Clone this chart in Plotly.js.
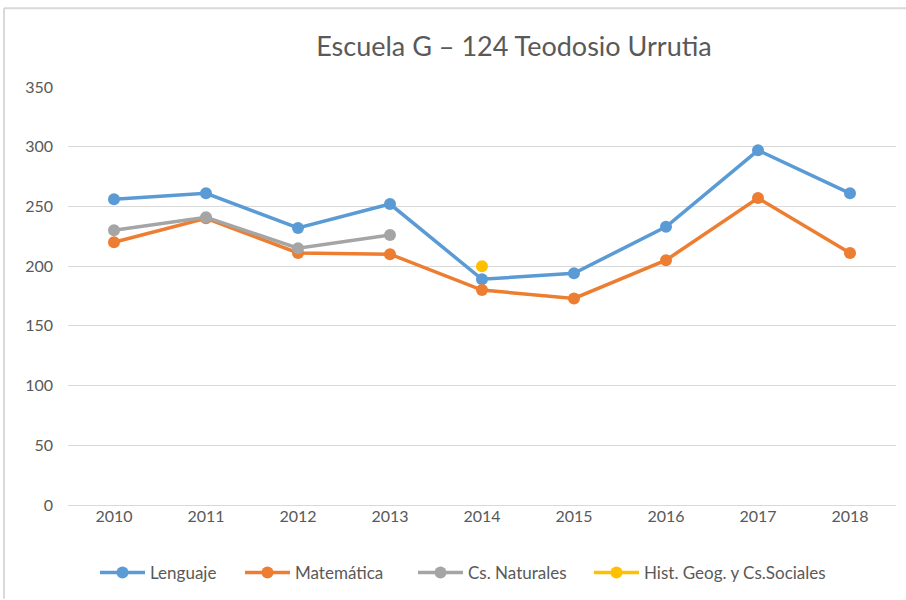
<!DOCTYPE html>
<html>
<head>
<meta charset="utf-8">
<script src="https://cdn.plot.ly/plotly-3.0.1.min.js"></script>
<style>html,body{margin:0;padding:0;background:#fff;}#chart{width:906px;height:600px;}</style>
</head>
<body>
<div id="chart"></div>
<script>
const years = ["2010","2011","2012","2013","2014","2015","2016","2017","2018"];
const lenguaje = [256, 261, 232, 252, 189, 194, 233, 297, 261];
const matematica = [220, 240, 211, 210, 180, 173, 205, 257, 211];
const naturales = [230, 241, 215, 226, null, null, null, null, null];
const historia = [null, null, null, null, 200, null, null, null, null];
const yTicks = [0, 50, 100, 150, 200, 250, 300, 350];

const seriesNames = ["Lenguaje", "Matemática", "Cs. Naturales", "Hist. Geog. y Cs.Sociales"];
const seriesData = [lenguaje, matematica, naturales, historia];
const colors = ["#5b9bd5", "#ed7d31", "#a5a5a5", "#ffc000"];
const legendIds = ["legend", "legend2", "legend3", "legend4"];

const traces = seriesData.map((d, i) => ({
  x: years, y: d, name: seriesNames[i], type: "scatter", mode: "lines+markers",
  line: {color: colors[i], width: 3.5},
  marker: {color: colors[i], size: 12},
  connectgaps: false,
  legend: legendIds[i]
}));

// plot area in px: left 68, right 896, top 87, bottom 506
const L = 68, W = 828, B = 506, H = 419;
const px = v => (v - L) / W;
const py = v => (B - v) / H;

const FONT = "Lato, 'Open Sans', sans-serif";
const legendX = [95, 240, 413, 589];

const layout = {
  width: 906, height: 600,
  margin: {l: 68, r: 10, t: 87, b: 94},
  paper_bgcolor: "#ffffff", plot_bgcolor: "#ffffff",
  font: {family: FONT, color: "#595959", size: 16},
  title: {text: "Escuela G – 124 Teodosio Urrutia", font: {size: 27, color: "#595959", family: FONT},
          x: px(514), xref: "paper", xanchor: "center", y: 1 - 47/600, yanchor: "middle"},
  xaxis: {type: "category", range: [-0.5, 8.5], showgrid: false, showline: false, zeroline: false,
          ticks: "", tickfont: {size: 16, color: "#595959"}, fixedrange: true},
  yaxis: {range: [0, 350], tickvals: yTicks, showgrid: true, gridcolor: "#d9d9d9", gridwidth: 1,
          zeroline: true, zerolinecolor: "#d9d9d9", zerolinewidth: 1, showline: false, ticks: "",
          ticklabelstandoff: 14,
          tickfont: {size: 16, color: "#595959"}, fixedrange: true},
  showlegend: true,
  shapes: [
    {type: "line", xref: "paper", yref: "paper", x0: px(4), x1: px(906), y0: py(8), y1: py(8), line: {color: "#d9d9d9", width: 2}},
    {type: "line", xref: "paper", yref: "paper", x0: px(4), x1: px(4), y0: py(8), y1: py(600), line: {color: "#d9d9d9", width: 2}}
  ]
};
legendIds.forEach((id, i) => {
  layout[id] = {orientation: "h", x: px(legendX[i]), xanchor: "left", y: py(573), yanchor: "middle",
    font: {size: 17, color: "#595959", family: FONT}, itemwidth: 45, bgcolor: "rgba(0,0,0,0)"};
});

Plotly.newPlot("chart", traces, layout, {displayModeBar: false, staticPlot: true});
</script>
</body>
</html>
